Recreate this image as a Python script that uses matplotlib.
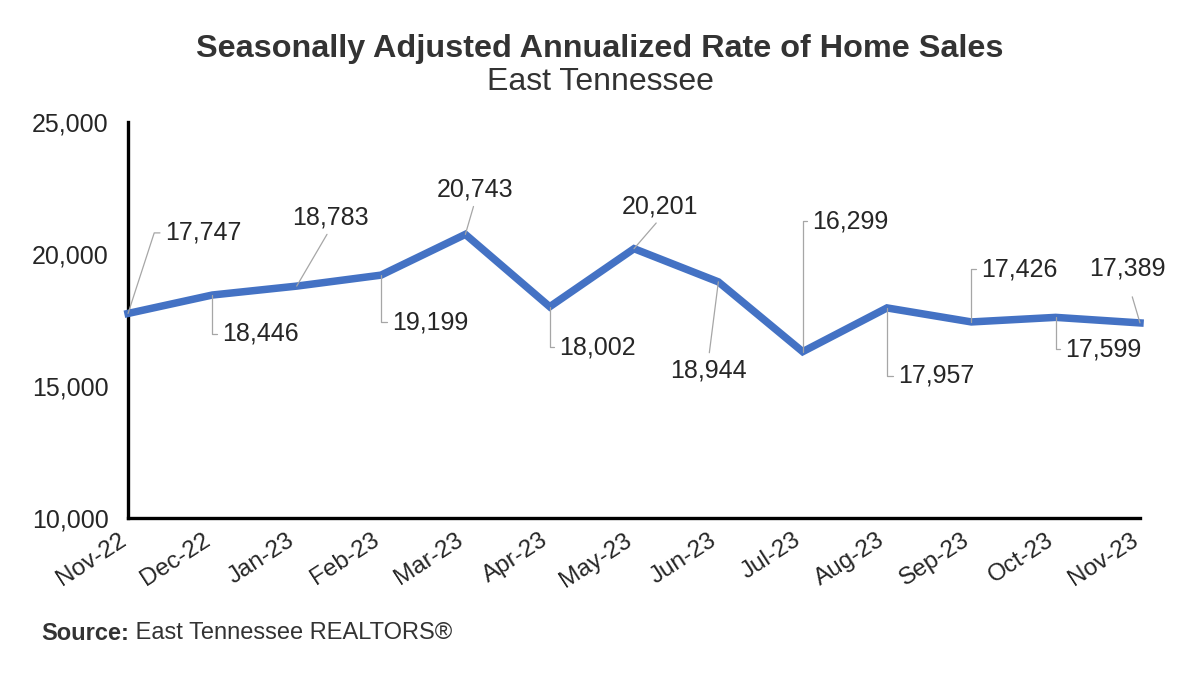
from matplotlib import pyplot as plt
from matplotlib.ticker import FuncFormatter
import matplotlib.transforms as mtransforms

# chart data
months = ['Nov-22', 'Dec-22', 'Jan-23', 'Feb-23', 'Mar-23', 'Apr-23', 'May-23',
          'Jun-23', 'Jul-23', 'Aug-23', 'Sep-23', 'Oct-23', 'Nov-23']
sales = [17747, 18446, 18783, 19199, 20743, 18002, 20201,
         18944, 16299, 17957, 17426, 17599, 17389]
y_ticks = [10000, 15000, 20000, 25000]

# label placement: offset of text in points, alignment, leader style
# (dx, dy, ha, va, relpos, connectionstyle, shrink)
label_pos = [
    (27, 58, 'left', 'center', (0, 0.5), 'angle,angleA=0,angleB=72,rad=0', 2),
    (7, -28, 'left', 'center', (0, 0.5), 'angle,angleA=0,angleB=90,rad=0', 2),
    (24, 41, 'center', 'bottom', (0.5, 0), 'arc3', 2),
    (8, -34, 'left', 'center', (0, 0.5), 'angle,angleA=0,angleB=90,rad=0', 2),
    (7, 24, 'center', 'bottom', (0.5, 0), 'arc3', 2),
    (7, -29, 'left', 'center', (0, 0.5), 'angle,angleA=0,angleB=90,rad=0', 2),
    (19, 22, 'center', 'bottom', (0.5, 0), 'arc3', 2),
    (-7, -55, 'center', 'top', (0.5, 1), 'arc3', 2),
    (7, 94, 'left', 'center', (0, 0.5), 'angle,angleA=0,angleB=90,rad=0', 2),
    (8, -49, 'left', 'center', (0, 0.5), 'angle,angleA=0,angleB=90,rad=0', 2),
    (7, 38, 'left', 'center', (0, 0.5), 'angle,angleA=0,angleB=90,rad=0', 2),
    (7, -23, 'left', 'center', (0, 0.5), 'angle,angleA=0,angleB=90,rad=0', 2),
    (-9, 39, 'center', 'center', (0.5, 0), 'arc3', 10),
]

plt.rcParams['font.family'] = ['Liberation Sans', 'DejaVu Sans']
text_col = '#262626'

fig = plt.figure(figsize=(12, 6.75), dpi=100)
ax = fig.add_axes([0.1067, 0.2326, 0.8433, 0.5867])

x = list(range(len(months)))
ax.plot(x, sales, color='#4472C4', lw=5.4, solid_joinstyle='miter', clip_on=False, zorder=3)

for i, v in enumerate(sales):
    dx, dy, ha, va, rp, cs, shr = label_pos[i]
    ax.annotate(f'{v:,}', xy=(i, v), xytext=(dx, dy), textcoords='offset points',
                ha=ha, va=va, fontsize=18, color=text_col,
                arrowprops=dict(arrowstyle='-', color='#a6a6a6', lw=0.9,
                                connectionstyle=cs, relpos=rp, shrinkA=shr, shrinkB=0))

ax.set_xlim(0, len(months) - 1)
ax.set_ylim(10000, 25000)
ax.set_yticks(y_ticks)
ax.yaxis.set_major_formatter(FuncFormatter(lambda v, p: f'{int(v):,}'))
ax.set_xticks(x)
ax.set_xticklabels(months, rotation=33, ha='right', rotation_mode='anchor')
ax.tick_params(axis='y', length=0, pad=14, labelsize=18, labelcolor=text_col)
ax.tick_params(axis='x', length=0, pad=8, labelsize=17.5, labelcolor=text_col)
# nudge rotated month labels a little to the left
shift = mtransforms.ScaledTranslation(-0.1, 0, fig.dpi_scale_trans)
for lbl in ax.get_xticklabels():
    lbl.set_transform(lbl.get_transform() + shift)

for s in ['top', 'right']:
    ax.spines[s].set_visible(False)
for s in ['left', 'bottom']:
    ax.spines[s].set_linewidth(2.4)
    ax.spines[s].set_color('black')

fig.text(0.5, 0.927, 'Seasonally Adjusted Annualized Rate of Home Sales',
         ha='center', va='center', fontsize=23.3, fontweight='bold', color='#333333')
fig.text(0.5, 0.878, 'East Tennessee', ha='center', va='center',
         fontsize=23, color='#333333')

src = fig.text(0.034, 0.062, 'Source:', ha='left', va='center', fontsize=17,
               fontweight='bold', color='#333333')
ax.annotate(' East Tennessee REALTORS®', xy=(1, 0.5), xycoords=src, ha='left',
            va='center', fontsize=17, color='#333333')

fig.savefig('out.png', dpi=100)
